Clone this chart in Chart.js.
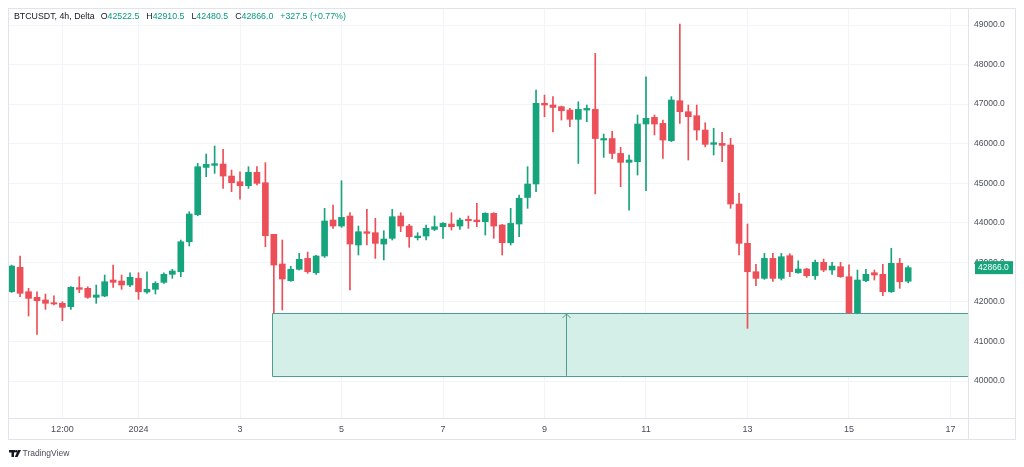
<!DOCTYPE html>
<html>
<head>
<script src="https://cdn.jsdelivr.net/npm/chart.js"></script>
<style>
    html, body { margin: 0; padding: 0; background: #fff; }
    #wrap { width: 1024px; height: 467px; position: relative; }
</style>
</head>
<body>
<div id="wrap"><canvas id="chart"></canvas></div>
<script>
// candle index 0 = 2024-01-01 00:00, one step = 4h
const firstIndex = -15;
const opens = [
    42257, 42874, 42257, 42116, 42048, 41980, 41964, 41878, 42360, 42343,
    42116, 42149, 42553, 42528, 42427, 42596, 42250, 42318, 42495, 42697,
    42763, 43521, 44204, 45400, 45452, 45486, 45182, 45038, 44937, 45275,
    45013, 43708, 42958, 42537, 42824, 43100, 42738, 43160, 44070, 43918,
    44171, 43438, 43774, 43750, 43463, 43607, 44171, 43918, 43623, 43665,
    43834, 43901, 43969, 43918, 44087, 44070, 44028, 44239, 43943, 43496,
    43969, 44640, 44980, 47020, 46977, 46935, 46850, 46615, 46850, 46867,
    46092, 46130, 45754, 45528, 45544, 46497, 46665, 46513, 46075, 47086,
    46808, 46707, 46345, 45983, 46008, 45966, 44475, 43481, 42763, 42595,
    43100, 42595, 43168, 42738, 42831, 42662, 43000, 42806, 42890, 42637,
    41727, 42535, 42738, 42697, 42257, 42975, 42522.5
];
const highs = [
    42930, 43160, 42343, 42257, 42199, 42156, 42005, 42385, 42637, 42384,
    42427, 42680, 42933, 42680, 42738, 42738, 42763, 42511, 42738, 42823,
    43564, 44280, 45502, 45739, 45941, 45857, 45334, 45290, 45418, 45418,
    45519, 43708, 43564, 42900, 43226, 43260, 43176, 44366, 44449, 45063,
    44255, 43918, 44340, 44113, 43800, 44340, 44255, 43960, 43750, 43943,
    44171, 44003, 44255, 44120, 44171, 44490, 44255, 44255, 43960, 44366,
    44700, 45418, 47357, 47230, 47188, 46950, 46892, 47060, 46977, 48283,
    46244, 46310, 45907, 45712, 46724, 47693, 46724, 46598, 47190, 49025,
    46977, 46977, 46530, 46390, 46287, 46135, 44742, 43969, 42950, 43226,
    43226, 43226, 43218, 43040, 42850, 43058, 43084, 43000, 43000, 42940,
    42806, 42823, 42806, 42950, 43355, 43100, 42910.5
];
const lows = [
    42240, 42131, 41643, 41180, 41812, 41922, 41524, 41812, 42232, 42090,
    41964, 42131, 42369, 42318, 42384, 42065, 42217, 42199, 42470, 42596,
    42637, 43413, 44180, 45165, 45250, 44871, 44786, 44594, 44871, 44955,
    43395, 41720, 41795, 42520, 42806, 42722, 42697, 43125, 43860, 43884,
    42300, 43185, 43438, 43100, 43060, 43565, 43775, 43380, 43565, 43565,
    43800, 43607, 43817, 43834, 43860, 43900, 43690, 43607, 43185, 43438,
    43648, 44366, 44786, 46680, 46300, 46597, 46429, 45500, 46555, 44730,
    45654, 45620, 44912, 44322, 45207, 44811, 46219, 45626, 46050, 46514,
    45587, 46092, 45920, 45713, 45544, 44366, 43185, 41332, 42410, 42570,
    42520, 42553, 42640, 42722, 42620, 42570, 42763, 42697, 42620, 41700,
    41700, 42510, 42553, 42156, 42240, 42343, 42480.5
];
const closes = [
    42907, 42217, 42090, 42030, 41964, 41947, 41863, 42369, 42318, 42116,
    42174, 42510, 42495, 42427, 42622, 42257, 42318, 42470, 42697, 42781,
    43521, 44222, 45418, 45477, 45494, 45182, 45013, 44937, 45275, 44997,
    43673, 42932, 42579, 42824, 43076, 42763, 43160, 44045, 43918, 44137,
    43463, 43774, 43733, 43480, 43590, 44154, 43918, 43648, 43665, 43860,
    43901, 43986, 43901, 44070, 44053, 44028, 44239, 43918, 43496, 43985,
    44620, 44980, 47020, 46977, 46917, 46833, 46615, 46867, 46892, 46130,
    46130, 45754, 45528, 45587, 46497, 46640, 46497, 46092, 47104, 46808,
    46682, 46345, 45983, 46025, 45957, 44475, 43481, 42763, 42595, 43100,
    42595, 43142, 42763, 42831, 42662, 43000, 42806, 42907, 42637, 41727,
    42553, 42697, 42680, 42257, 42975, 42510, 42866
];

const timeTicks = [-9, 0, 12, 24, 36, 48, 60, 72, 84, 96];
const timeLabels = ['12:00', '2024', '3', '5', '7', '9', '11', '13', '15', '17'];
const priceTicks = [40000, 41000, 42000, 43000, 44000, 45000, 46000, 47000, 48000, 49000];

// long position zone (candle index / price)
const zoneStart = 15.8;
const zoneTop = 41720;
const zoneBottom = 40130;
const arrowAt = 50.6;

const symbolText = 'BTCUSDT, 4h, Delta';
const ohlcLetters = ['O', 'H', 'L', 'C'];
const ohlcValues = ['42522.5', '42910.5', '42480.5', '42866.0'];
const changeText = '+327.5 (+0.77%)';

const upColor = '#16a47c';
const downColor = '#ec4f57';
const fontFamily = "'Liberation Sans', Arial, sans-serif";

const bodies = [];
const wicks = [];
const candleColors = [];
for (let i = 0; i < opens.length; i++) {
    const x = firstIndex + i;
    bodies.push({ x: x, y: [opens[i], closes[i]] });
    wicks.push({ x: x, y: [lows[i], highs[i]] });
    candleColors.push(closes[i] >= opens[i] ? upColor : downColor);
}

const decorations = {
    id: 'decorations',
    beforeDatasetsDraw(chart) {
        const { ctx, chartArea, scales } = chart;
        const x0 = scales.x.getPixelForValue(zoneStart);
        const x1 = chartArea.right;
        const yT = scales.y.getPixelForValue(zoneTop);
        const yB = scales.y.getPixelForValue(zoneBottom);
        ctx.save();
        ctx.fillStyle = '#d4efe7';
        ctx.fillRect(x0, yT, x1 - x0, yB - yT);
        ctx.strokeStyle = '#4f9c92';
        ctx.lineWidth = 1;
        ctx.beginPath();
        ctx.moveTo(x1, Math.round(yT) + 0.5);
        ctx.lineTo(Math.round(x0) + 0.5, Math.round(yT) + 0.5);
        ctx.lineTo(Math.round(x0) + 0.5, Math.round(yB) + 0.5);
        ctx.lineTo(x1, Math.round(yB) + 0.5);
        ctx.stroke();
        // arrow
        const ax = Math.round(scales.x.getPixelForValue(arrowAt)) + 0.5;
        ctx.beginPath();
        ctx.moveTo(ax, yB);
        ctx.lineTo(ax, yT + 1);
        ctx.moveTo(ax - 4, yT + 5);
        ctx.lineTo(ax, yT + 1);
        ctx.lineTo(ax + 4, yT + 5);
        ctx.stroke();
        ctx.restore();
    },
    afterDraw(chart) {
        const { ctx, chartArea, scales } = chart;
        ctx.save();
        // outer frame and pane separators
        ctx.strokeStyle = '#e0e3eb';
        ctx.lineWidth = 1;
        ctx.strokeRect(8.5, 8.5, 1007, 431);
        ctx.beginPath();
        ctx.moveTo(Math.round(chartArea.right) + 0.5, 8);
        ctx.lineTo(Math.round(chartArea.right) + 0.5, 440);
        ctx.moveTo(8, Math.round(chartArea.bottom) + 0.5);
        ctx.lineTo(1016, Math.round(chartArea.bottom) + 0.5);
        ctx.stroke();

        // last price label
        const last = closes[closes.length - 1];
        const py = scales.y.getPixelForValue(last);
        ctx.fillStyle = upColor;
        ctx.fillRect(chartArea.right + 7, py - 6.5, 38, 13);
        ctx.fillStyle = '#ffffff';
        ctx.font = '8.5px ' + fontFamily;
        ctx.textBaseline = 'middle';
        ctx.textAlign = 'left';
        ctx.fillText(last.toFixed(1), chartArea.right + 10, py + 0.5);

        // header
        ctx.font = '8.8px ' + fontFamily;
        let hx = 14;
        ctx.fillStyle = '#131722';
        ctx.fillText(symbolText, hx, 17);
        hx += ctx.measureText(symbolText).width + 6;
        ohlcLetters.forEach((l, i) => {
            ctx.fillStyle = '#131722';
            ctx.fillText(l, hx, 17);
            hx += ctx.measureText(l).width;
            ctx.fillStyle = '#089981';
            ctx.fillText(ohlcValues[i], hx, 17);
            hx += ctx.measureText(ohlcValues[i]).width + 7;
        });
        ctx.fillText(changeText, hx, 17);

        // TradingView mark
        ctx.fillStyle = '#131722';
        ctx.fillRect(9, 450, 6, 2.5);
        ctx.fillRect(11.5, 450, 2.5, 7);
        ctx.beginPath();
        ctx.arc(16.3, 451.3, 1.3, 0, Math.PI * 2);
        ctx.fill();
        ctx.beginPath();
        ctx.moveTo(18, 450);
        ctx.lineTo(21, 450);
        ctx.lineTo(17.5, 457);
        ctx.lineTo(14.8, 457);
        ctx.closePath();
        ctx.fill();
        ctx.font = '8.5px ' + fontFamily;
        ctx.fillStyle = '#4a4e59';
        ctx.fillText('TradingView', 22.5, 454);
        ctx.restore();
    }
};

new Chart(document.getElementById('chart'), {
    type: 'bar',
    data: {
        datasets: [
            {
                label: 'body',
                data: bodies,
                backgroundColor: candleColors,
                barThickness: 6,
                minBarLength: 1,
                grouped: false
            },
            {
                label: 'wick',
                data: wicks,
                backgroundColor: candleColors,
                barThickness: 1,
                grouped: false
            }
        ]
    },
    options: {
        responsive: true,
        maintainAspectRatio: false,
        animation: false,
        layout: { padding: { left: 8, right: 8, top: 8, bottom: 27 } },
        plugins: {
            legend: { display: false },
            tooltip: { enabled: false }
        },
        scales: {
            x: {
                type: 'linear',
                min: -15.43,
                max: 98.07,
                offset: false,
                afterBuildTicks: s => { s.ticks = timeTicks.map(v => ({ value: v })); },
                afterFit: s => { s.height = 22; s.paddingLeft = 0; s.paddingRight = 0; },
                grid: { color: '#f2f4f8', drawTicks: false, offset: false },
                border: { display: false },
                ticks: {
                    autoSkip: false,
                    maxRotation: 0,
                    padding: 6,
                    color: '#4a4e59',
                    font: { family: fontFamily, size: 9 },
                    callback: v => timeLabels[timeTicks.indexOf(v)]
                }
            },
            y: {
                position: 'right',
                min: 39065,
                max: 49430,
                afterBuildTicks: s => { s.ticks = priceTicks.map(v => ({ value: v })); },
                afterFit: s => { s.width = 48; s.paddingTop = 0; s.paddingBottom = 0; },
                grid: { color: '#f2f4f8', drawTicks: false },
                border: { display: false },
                ticks: {
                    padding: 6,
                    color: '#4a4e59',
                    font: { family: fontFamily, size: 8.5 },
                    callback: v => v.toFixed(1)
                }
            }
        }
    },
    plugins: [decorations]
});
</script>
</body>
</html>
